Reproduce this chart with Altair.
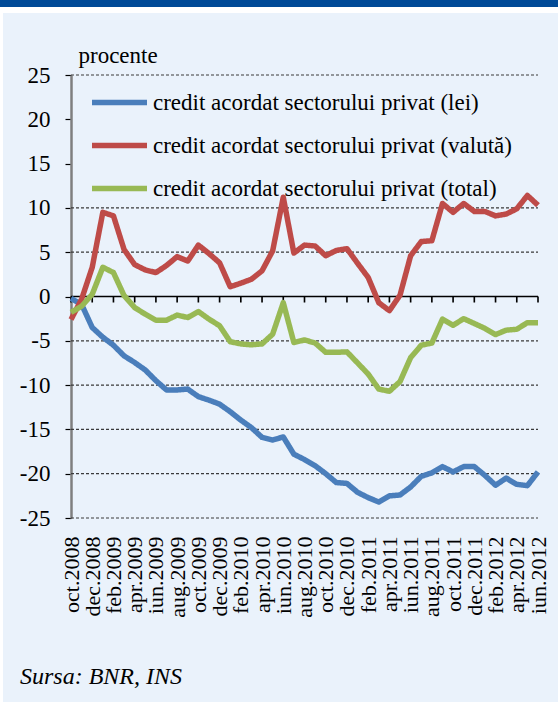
import altair as alt
import pandas as pd

# ---- data -------------------------------------------------------------
month_names = ["ian", "feb", "mar", "apr", "mai", "iun",
               "iul", "aug", "sep", "oct", "noi", "dec"]
months = []
_y, _m = 2008, 9
for _ in range(45):
    months.append(f"{month_names[_m]}.{_y}")
    _m += 1
    if _m == 12:
        _m, _y = 0, _y + 1

series_names = [
    "credit acordat sectorului privat (lei)",
    "credit acordat sectorului privat (valută)",
    "credit acordat sectorului privat (total)",
]

lei = [-0.2, -0.9, -3.5, -4.6, -5.5, -6.7, -7.45, -8.3, -9.5, -10.55, -10.55,
       -10.45, -11.3, -11.7, -12.15, -13.0, -13.95, -14.8, -15.9, -16.2, -15.85,
       -17.8, -18.4, -19.1, -20.0, -21.0, -21.1, -22.1, -22.7, -23.2, -22.5,
       -22.4, -21.5, -20.3, -19.9, -19.2, -19.8, -19.2, -19.2, -20.2, -21.3,
       -20.5, -21.2, -21.35, -19.8]
valuta = [-2.6, -0.3, 3.3, 9.5, 9.1, 5.3, 3.6, 3.0, 2.7, 3.5, 4.5, 4.0, 5.8,
          4.85, 3.8, 1.1, 1.5, 1.95, 2.9, 5.15, 11.2, 4.9, 5.8, 5.7, 4.6, 5.2,
          5.4, 3.75, 2.15, -0.7, -1.6, 0.15, 4.6, 6.2, 6.3, 10.5, 9.5, 10.5,
          9.6, 9.6, 9.1, 9.3, 9.9, 11.4, 10.3]
total = [-1.8, -1.1, 0.25, 3.3, 2.7, 0.1, -1.25, -2.0, -2.67, -2.67, -2.1,
         -2.37, -1.7, -2.55, -3.3, -5.1, -5.35, -5.45, -5.35, -4.25, -0.7, -5.2,
         -4.9, -5.25, -6.3, -6.3, -6.25, -7.5, -8.75, -10.45, -10.7, -9.6, -6.9,
         -5.5, -5.25, -2.55, -3.25, -2.5, -3.05, -3.6, -4.3, -3.8, -3.7, -2.95,
         -2.95]

y_ticks = [25, 20, 15, 10, 5, 0, -5, -10, -15, -20, -25]
grid_values = [25, 10, 5, -5, -10, -15, -20, -25]   # 20 and 15 lie under the legend
x_labels = months[::2]
source_text = "Sursa: BNR, INS"

colors = ["#4A7EBB", "#BE4B48", "#98B954"]

# ---- style ------------------------------------------------------------
FONT = "Liberation Serif"
BG = "#EAF2FB"
W, H = 467, 443
TICK_UNITS = 6 * 50 / H          # 6 px tick length expressed in y units

# ---- one table: gridlines, zero axis, axis ticks, then the three series --
rows = []
for g in grid_values:
    for j, mo in enumerate((months[0], months[-1])):
        rows.append({"luna": mo, "idx": j, "kind": "grid", "wclass": "grid",
                     "seg": f"g{g}", "valoare": g})
for j, mo in enumerate((months[0], months[-1])):
    rows.append({"luna": mo, "idx": j, "kind": "zero", "wclass": "axis",
                 "seg": "zero", "valoare": 0})
for lab in x_labels:
    rows.append({"luna": lab, "idx": 0, "kind": "tick", "wclass": "axis",
                 "seg": f"t{lab}", "valoare": 0})
    rows.append({"luna": lab, "idx": 1, "kind": "tick", "wclass": "axis",
                 "seg": f"t{lab}", "valoare": -TICK_UNITS})
for name, vals in zip(series_names, [lei, valuta, total]):
    for i, (mo, v) in enumerate(zip(months, vals)):
        rows.append({"luna": mo, "idx": i, "kind": name, "wclass": "series",
                     "seg": name, "valoare": v})
df = pd.DataFrame(rows)

kinds = series_names + ["grid", "zero", "tick"]
kind_colors = colors + ["#3A3A3A", "#000000", "#000000"]
kind_dash = [[1, 0], [1, 0], [1, 0], [3, 2], [1, 0], [1, 0]]
# point scale spreads classes evenly over [1.2, 5.5]: grid 1.2, axis ~1.6, series 5.5
width_classes = ["grid", "axis"] + [f"_{k}" for k in range(8)] + ["series"]

x_axis = alt.Axis(
    values=x_labels, labelAngle=-90, ticks=False, domain=False, grid=False,
    labelFont=FONT, labelFontSize=22, labelColor="black", labelPadding=18,
    labelOverlap=False, title=None,
)
y_axis = alt.Axis(
    values=y_ticks, labelExpr="'' + datum.value", grid=False,
    labelFont=FONT, labelFontSize=23, labelColor="black", labelPadding=15,
    tickSize=6, tickColor="black", tickWidth=1.2,
    domainColor="#7F7F7F", domainWidth=2.5,
    title="procente", titleAngle=0, titleAlign="left", titleBaseline="alphabetic",
    titleX=7, titleY=-13, titleFont=FONT, titleFontSize=23,
    titleFontWeight="normal", titleColor="black",
)

plot = alt.Chart(df).mark_line(strokeJoin="round").encode(
    x=alt.X("luna:N", scale=alt.Scale(type="point", padding=0, domain=months),
            axis=x_axis),
    y=alt.Y("valoare:Q", scale=alt.Scale(domain=[-25, 25], nice=False, zero=False),
            axis=y_axis),
    color=alt.Color(
        "kind:N",
        scale=alt.Scale(domain=kinds, range=kind_colors),
        legend=alt.Legend(
            values=series_names,
            orient="none", legendX=18, legendY=-3, title=None,
            symbolType="stroke", symbolStrokeWidth=5.5, symbolSize=3025,
            labelFont=FONT, labelFontSize=23, labelColor="black",
            labelLimit=0, labelOffset=3, rowPadding=-8, padding=0,
        ),
    ),
    strokeWidth=alt.StrokeWidth(
        "wclass:N",
        scale=alt.Scale(type="point", padding=0, domain=width_classes, range=[1.2, 5.5]),
        legend=None,
    ),
    strokeDash=alt.StrokeDash("kind:N", scale=alt.Scale(domain=kinds, range=kind_dash),
                              legend=None),
    detail="seg:N",
    order=alt.Order("idx:Q"),
)

decor = pd.DataFrame({"k": [0]})
top_bar = alt.Chart(decor).mark_rect(color="#004A97").encode(
    x=alt.value(-71), x2=alt.value(W + 20), y=alt.value(-75), y2=alt.value(-68))
white_strip = alt.Chart(decor).mark_rect(color="white").encode(
    x=alt.value(-71), x2=alt.value(W + 20), y=alt.value(-68), y2=alt.value(-62))
left_strip = alt.Chart(decor).mark_rect(color="white").encode(
    x=alt.value(-71), x2=alt.value(-68), y=alt.value(-62), y2=alt.value(H + 184))
source = alt.Chart(decor).mark_text(
    text=source_text, font=FONT, fontSize=24, fontStyle="italic",
    align="left", baseline="alphabetic", color="black",
).encode(x=alt.value(-51), y=alt.value(609))

chart = alt.layer(
    plot, top_bar, white_strip, left_strip, source
).properties(
    width=W, height=H,
    padding={"left": 71, "top": 75, "right": 20, "bottom": 184},
    autosize=alt.AutoSizeParams(type="none"),
).configure(
    background=BG,
).configure_view(
    stroke=None,
)

chart.save("out.html", embed_options={"renderer": "svg", "actions": False})
